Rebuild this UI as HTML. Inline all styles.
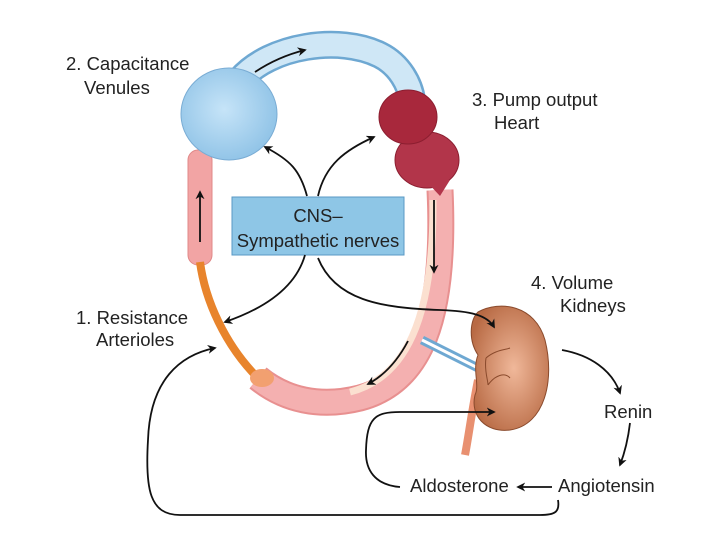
<!DOCTYPE html>
<html><head><meta charset="utf-8"><style>
html,body{margin:0;padding:0;background:#fff;}
svg{display:block;}
text{font-family:"Liberation Sans",sans-serif;font-size:18.5px;fill:#222;}
</style></head><body>
<svg width="720" height="540" viewBox="0 0 720 540" xmlns="http://www.w3.org/2000/svg">
<defs>
<marker id="a" viewBox="0 0 10 10" refX="8" refY="5" markerWidth="5" markerHeight="5" orient="auto"><path d="M0,0 L10,5 L0,10 L3,5 z" fill="#111"/></marker>
<radialGradient id="kg" cx="0.55" cy="0.5" r="0.6"><stop offset="0" stop-color="#f0b89a"/><stop offset="1" stop-color="#b86a44"/></radialGradient>
<radialGradient id="vg" cx="0.45" cy="0.45" r="0.6"><stop offset="0" stop-color="#c6e4f8"/><stop offset="1" stop-color="#8ec2e6"/></radialGradient>
</defs>
<!-- blue tube -->
<path d="M240,80 C270,45 340,35 380,55 C400,65 410,85 412,100" fill="none" stroke="#6ea8d2" stroke-width="28"/>
<path d="M240,80 C270,45 340,35 380,55 C400,65 410,85 412,100" fill="none" stroke="#cfe7f6" stroke-width="23"/>
<!-- pink left upper -->
<rect x="188" y="150" width="24" height="115" rx="10" fill="#f2a4a4" stroke="#e08888"/>
<!-- orange -->
<path d="M200,262 C205,300 225,345 258,378" fill="none" stroke="#e8842c" stroke-width="8"/>
<!-- pink bottom & right -->
<path d="M258,378 C285,400 320,408 360,398 C420,382 446,320 440,190" fill="none" stroke="#e89090" stroke-width="27"/>
<path d="M258,378 C285,400 320,408 360,398 C420,382 446,320 440,190" fill="none" stroke="#f4b0b0" stroke-width="23"/>
<path d="M350,392 C405,378 434,320 433,200" fill="none" stroke="#fbe0d0" stroke-width="7"/>
<ellipse cx="262" cy="378" rx="12" ry="9" fill="#f2a070"/>
<!-- venule ball -->
<ellipse cx="229" cy="114" rx="48" ry="46" fill="url(#vg)" stroke="#79acd4"/>
<!-- heart -->
<ellipse cx="427" cy="160" rx="32" ry="28" fill="#b2354a" stroke="#8c1e30"/>
<path d="M425,180 L440,196 L450,180 Z" fill="#b2354a"/>
<ellipse cx="408" cy="117" rx="29" ry="27" fill="#a8283c" stroke="#8c1e30"/>
<!-- renal vessels -->
<path d="M422,340 L478,368" stroke="#6ea8d2" stroke-width="9"/>
<path d="M422,340 L478,368" stroke="#fff" stroke-width="3"/>
<!-- ureter -->
<path d="M478,380 C472,410 468,440 465,455" stroke="#e89070" stroke-width="8" fill="none"/>
<!-- kidney -->
<path d="M478,312 C500,300 535,305 545,340 C555,380 545,425 510,430 C485,433 470,415 475,395 C480,385 472,370 478,355 C468,340 470,320 478,312 Z" fill="url(#kg)" stroke="#8a4a2c"/>
<path d="M486,358 C495,350 505,350 510,348 M488,385 C495,375 505,372 510,378 M486,358 C484,370 488,380 488,385" fill="none" stroke="#8a4a2c"/>
<!-- box -->
<rect x="232" y="197" width="172" height="58" fill="#8ec6e6" stroke="#5a98c4"/>
<text x="318" y="222" text-anchor="middle">CNS–</text>
<text x="318" y="247" text-anchor="middle">Sympathetic nerves</text>
<!-- arrows -->
<g fill="none" stroke="#111" stroke-width="1.8" marker-end="url(#a)">
<path d="M255,72 C270,62 285,55 305,50"/>
<path d="M200,242 L200,192"/>
<path d="M434,200 L434,272"/>
<path d="M408,341 C398,360 385,375 368,384"/>
<path d="M307,196 C300,170 290,160 265,147"/>
<path d="M318,196 C325,165 345,150 374,137"/>
<path d="M305,255 C295,290 260,310 225,322"/>
<path d="M318,258 C335,300 380,308 440,310 C470,311 487,315 494,327"/>
<path d="M562,350 C590,355 612,370 620,393"/>
<path d="M630,423 C628,440 625,452 620,465"/>
<path d="M552,487 L518,487"/>
<path d="M400,487 C375,485 365,470 366,450 C367,418 375,412 400,412 L494,412"/>
<path d="M558,500 C560,512 555,515 540,515 L180,515 C150,515 145,490 148,440 C150,380 180,355 215,348"/>
</g>
<!-- labels -->
<text x="66" y="70">2. Capacitance</text>
<text x="84" y="94">Venules</text>
<text x="472" y="106">3. Pump output</text>
<text x="494" y="129">Heart</text>
<text x="531" y="289">4. Volume</text>
<text x="560" y="312">Kidneys</text>
<text x="76" y="324">1. Resistance</text>
<text x="96" y="346">Arterioles</text>
<text x="604" y="418">Renin</text>
<text x="410" y="492">Aldosterone</text>
<text x="558" y="492">Angiotensin</text>
</svg>
</body></html>
